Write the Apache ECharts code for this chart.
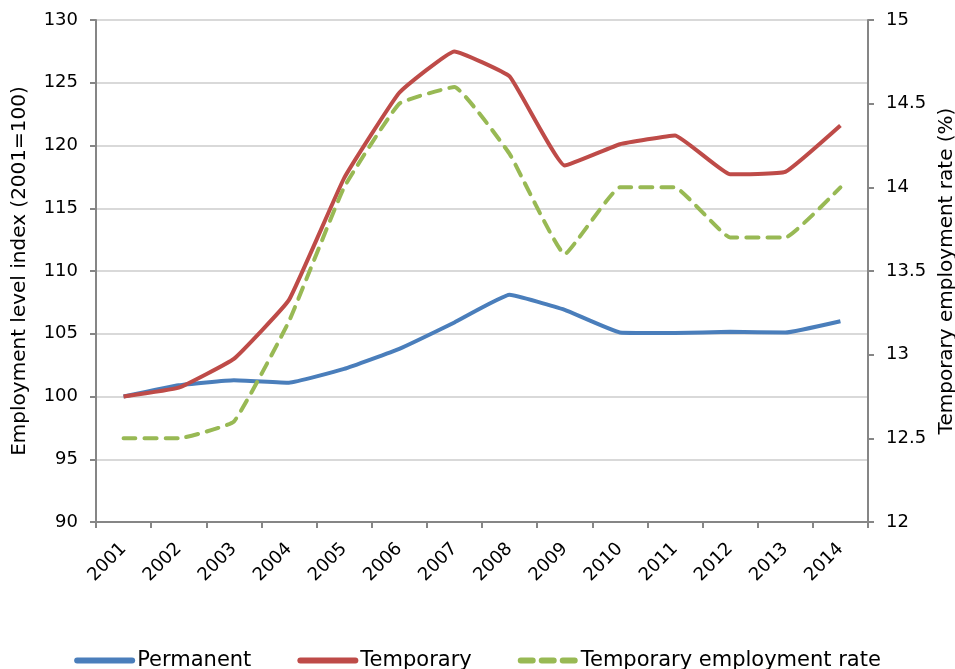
<!DOCTYPE html>
<html>
<head>
<meta charset="utf-8">
<script src="https://cdn.jsdelivr.net/npm/echarts@6/dist/echarts.min.js"></script>
<style>
  html, body { margin: 0; padding: 0; background: #fff; }
  #chart { width: 955px; height: 669px; }
</style>
</head>
<body>
<div id="chart"></div>
<script>
// values
const years = ['2001', '2002', '2003', '2004', '2005', '2006', '2007', '2008', '2009', '2010', '2011', '2012', '2013', '2014']
const permanent = [100, 100.9, 101.3, 101.1, 102.2, 103.8, 105.9, 108.1, 106.9, 105.1, 105.05, 105.15, 105.1, 106.0]
const temporary = [100, 100.7, 103.0, 107.7, 117.4, 124.2, 127.5, 125.5, 118.4, 120.1, 120.8, 117.7, 117.9, 121.6]
const tempRate = [12.5, 12.5, 12.6, 13.2, 14.0, 14.5, 14.6, 14.2, 13.6, 14.0, 14.0, 13.7, 13.7, 14.0]

const font = 'DejaVu Sans'
const axisGrey = '#868686'

const chart = echarts.init(document.getElementById('chart'))

chart.setOption({
  animation: false,
  textStyle: { fontFamily: font },
  grid: {
    left: 96,
    right: 87,
    top: 20,
    bottom: 147,
    outerBoundsMode: 'none',
    containLabel: false
  },
  legend: {
    top: 645,
    left: 'center',
    itemWidth: 55,
    itemHeight: 12,
    itemGap: 46,
    itemStyle: { color: 'transparent', borderColor: 'transparent', borderWidth: 0 },
    lineStyle: { width: 6, cap: 'round' },
    textStyle: { fontFamily: font, fontSize: 21, color: '#000' },
    data: ['Permanent', 'Temporary', 'Temporary employment rate']
  },
  xAxis: {
    type: 'category',
    data: years,
    boundaryGap: true,
    axisLine: { lineStyle: { color: axisGrey, width: 2 } },
    axisTick: { show: true, length: 6, lineStyle: { color: axisGrey, width: 2 } },
    axisLabel: { rotate: 45, fontSize: 18, color: '#000', margin: 24, interval: 0 }
  },
  yAxis: [
    {
      type: 'value',
      min: 90,
      max: 130,
      interval: 5,
      name: 'Employment level index (2001=100)',
      nameLocation: 'middle',
      nameGap: 66,
      nameTextStyle: { fontSize: 20, color: '#000' },
      axisLine: { show: true, lineStyle: { color: axisGrey, width: 2 } },
      axisTick: { show: true, length: 6, lineStyle: { color: axisGrey, width: 2 } },
      axisLabel: { fontSize: 18, color: '#000', margin: 18 },
      splitLine: { lineStyle: { color: '#d9d9d9', width: 2 } }
    },
    {
      type: 'value',
      min: 12,
      max: 15,
      interval: 0.5,
      position: 'right',
      name: 'Temporary employment rate (%)',
      nameLocation: 'middle',
      nameGap: 66,
      nameRotate: 90,
      nameTextStyle: { fontSize: 20, color: '#000' },
      axisLine: { show: true, lineStyle: { color: axisGrey, width: 2 } },
      axisTick: { show: true, length: 6, lineStyle: { color: axisGrey, width: 2 } },
      axisLabel: { fontSize: 18, color: '#000', margin: 18 },
      splitLine: { show: false }
    }
  ],
  series: [
    {
      name: 'Permanent',
      type: 'line',
      data: permanent,
      symbol: 'none',
      smooth: 0.1,
      itemStyle: { color: '#4a7ebb' },
      lineStyle: { color: '#4a7ebb', width: 4 }
    },
    {
      name: 'Temporary',
      type: 'line',
      data: temporary,
      symbol: 'none',
      smooth: 0.1,
      itemStyle: { color: '#be4b48' },
      lineStyle: { color: '#be4b48', width: 4 }
    },
    {
      name: 'Temporary employment rate',
      type: 'line',
      yAxisIndex: 1,
      data: tempRate,
      symbol: 'none',
      smooth: 0.1,
      itemStyle: { color: '#98b954' },
      lineStyle: { color: '#98b954', width: 4, type: [12, 9], cap: 'round' }
    }
  ]
})
</script>
</body>
</html>
